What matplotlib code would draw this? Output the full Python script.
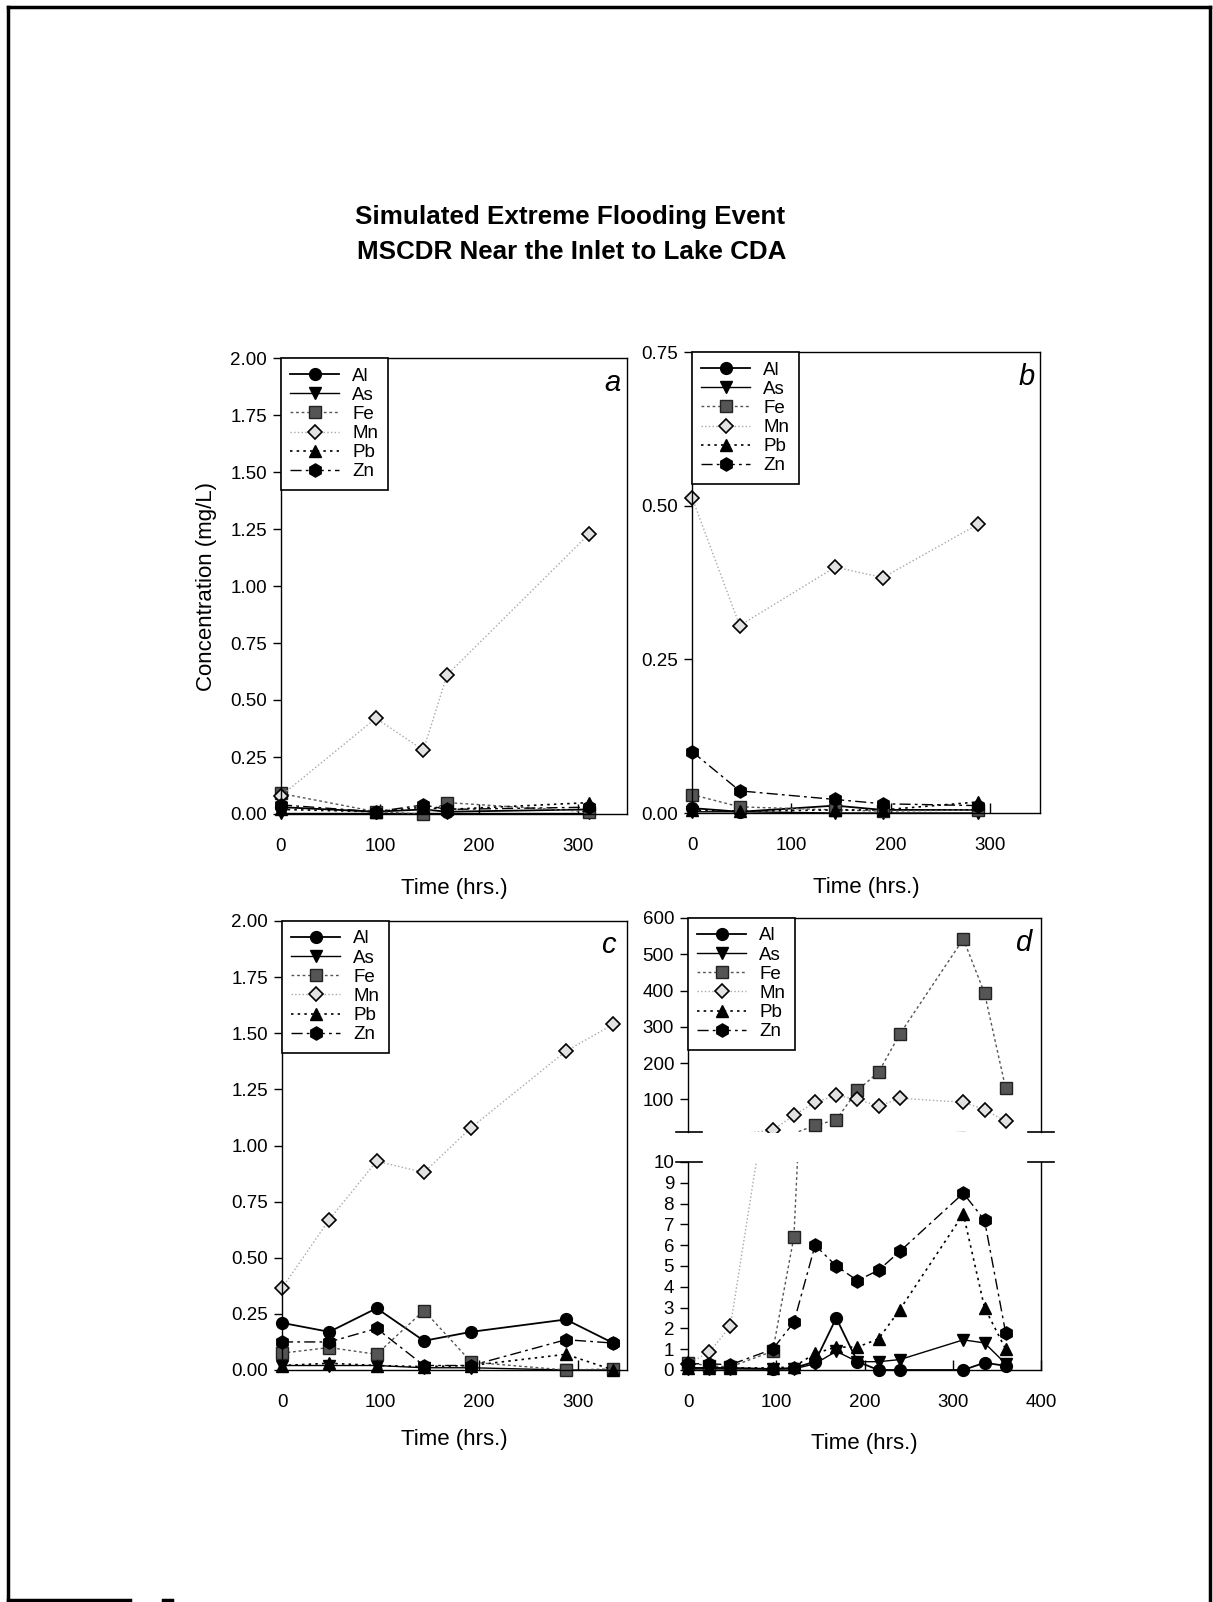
import numpy as np
import matplotlib
matplotlib.use("Agg")
import matplotlib.pyplot as plt
from matplotlib.lines import Line2D

plt.rcParams['font.family'] = ['Liberation Sans', 'DejaVu Sans']

W, H = 1213, 1602

# ---- data (mg/L) ----
elements = ["Al", "As", "Fe", "Mn", "Pb", "Zn"]

a_time = [0, 96, 144, 168, 312]
a_Al = [0.03, 0.01, 0.02, 0.01, 0.02]
a_As = [0.003, 0.003, 0.003, 0.003, 0.003]
a_Fe = [0.09, 0.01, 0.0, 0.05, 0.01]
a_Mn = [0.08, 0.42, 0.28, 0.61, 1.23]
a_Pb = [0.02, 0.01, 0.03, 0.02, 0.05]
a_Zn = [0.04, 0.01, 0.04, 0.02, 0.03]

b_time = [0, 48, 144, 192, 288]
b_Al = [0.008, 0.002, 0.012, 0.005, 0.005]
b_As = [0.002, 0.002, 0.0, 0.0, 0.0]
b_Fe = [0.03, 0.01, 0.005, 0.003, 0.005]
b_Mn = [0.513, 0.305, 0.40, 0.383, 0.47]
b_Pb = [0.005, 0.003, 0.005, 0.005, 0.018]
b_Zn = [0.10, 0.036, 0.022, 0.015, 0.012]

c_time = [0, 48, 96, 144, 192, 288, 336]
c_Al = [0.21, 0.17, 0.275, 0.13, 0.17, 0.225, 0.12]
c_As = [0.02, 0.02, 0.02, 0.01, 0.01, 0.0, 0.0]
c_Fe = [0.075, 0.10, 0.07, 0.265, 0.035, 0.0, 0.005]
c_Mn = [0.365, 0.67, 0.93, 0.88, 1.08, 1.42, 1.54]
c_Pb = [0.02, 0.03, 0.02, 0.015, 0.02, 0.07, 0.0]
c_Zn = [0.125, 0.125, 0.185, 0.02, 0.02, 0.135, 0.12]

d_time = [0, 24, 48, 96, 120, 144, 168, 192, 216, 240, 312, 336, 360]
d_Al = [0.1, 0.1, 0.1, 0.05, 0.1, 0.4, 2.5, 0.4, 0.0, 0.0, 0.0, 0.35, 0.2]
d_As = [0.05, 0.05, 0.05, 0.05, 0.05, 0.3, 0.9, 0.4, 0.4, 0.5, 1.45, 1.3, 0.3]
d_Fe = [0.35, 0.2, 0.15, 0.9, 6.4, 28, 44, 125, 175, 280, 542, 393, 130]
d_Mn = [0.3, 0.85, 2.1, 15, 56, 92, 111, 100, 81, 103, 92, 72, 39]
d_Pb = [0.1, 0.1, 0.1, 0.1, 0.15, 0.8, 1.1, 1.1, 1.5, 2.9, 7.5, 3.0, 1.0]
d_Zn = [0.3, 0.3, 0.25, 1.0, 2.3, 6.0, 5.0, 4.3, 4.8, 5.7, 8.5, 7.2, 1.78]

# ---- styles ----
styles = {
    "Al": dict(color="black", ls="-", lw=1.3, marker="o", ms=8.5, mfc="black", mec="black"),
    "As": dict(color="black", ls="-", lw=1.0, marker="v", ms=8.5, mfc="black", mec="black"),
    "Fe": dict(color="#555555", ls=(0, (2, 2)), lw=1.0, marker="s", ms=8, mfc="#555555", mec="#222222"),
    "Mn": dict(color="#a8a8a8", ls=":", lw=1.0, marker="D", ms=7.5, mfc="#e2e2e2", mec="black", mew=1.2),
    "Pb": dict(color="black", ls=(0, (1.5, 2.5)), lw=1.2, marker="^", ms=8.5, mfc="black", mec="black"),
    "Zn": dict(color="black", ls=(0, (8, 3, 2, 3)), lw=1.0, marker="h", ms=9.5, mfc="black", mec="black"),
}


def box(l, t, r, b):
    return [l / W, 1 - b / H, (r - l) / W, (b - t) / H]


def style_axes(ax):
    ax.tick_params(axis="y", direction="out", length=6, width=1, labelsize=13.5, pad=4)
    ax.tick_params(axis="x", direction="in", length=7, width=1, labelsize=13.5, pad=17)
    for s in ax.spines.values():
        s.set_linewidth(1.0)


def add_legend(ax):
    handles = [Line2D([], [], **styles[e]) for e in elements]
    leg = ax.legend(handles, elements, loc="upper left", borderaxespad=0, fontsize=13.5,
                    handlelength=2.6, labelspacing=0.11, handletextpad=0.7,
                    borderpad=0.5, fancybox=False, framealpha=1, edgecolor="black")
    leg.get_frame().set_linewidth(1.2)


def plot_series(ax, t, series):
    for e, vals in zip(elements, series):
        ax.plot(t, vals, clip_on=False, **styles[e])


fig = plt.figure(figsize=(W / 100, H / 100), dpi=100)

title_font = dict(fontsize=18.7, fontweight="bold")
fig.text(570 / W, 1 - 217 / H, "Simulated Extreme Flooding Event", ha="center", va="center", **title_font)
fig.text(572 / W, 1 - 252 / H, "MSCDR Near the Inlet to Lake CDA", ha="center", va="center", **title_font)

# panel a
ax_a = fig.add_axes(box(281, 358, 627, 814))
plot_series(ax_a, a_time, [a_Al, a_As, a_Fe, a_Mn, a_Pb, a_Zn])
ax_a.set_xlim(0, 350)
ax_a.set_ylim(0, 2.0)
ax_a.set_yticks(np.arange(0, 2.01, 0.25))
ax_a.set_xticks([0, 100, 200, 300])
ax_a.yaxis.set_major_formatter("{x:.2f}")
ax_a.set_ylabel("Concentration (mg/L)", fontsize=16)
ax_a.yaxis.set_label_coords(-0.185, 0.5)
ax_a.set_xlabel("Time (hrs.)", fontsize=16, labelpad=17)
style_axes(ax_a)
add_legend(ax_a)
ax_a.text(0.957, 0.945, "a", transform=ax_a.transAxes, ha="center", va="center",
          fontsize=21, style="italic")

# panel b
ax_b = fig.add_axes(box(692, 352, 1040, 813))
plot_series(ax_b, b_time, [b_Al, b_As, b_Fe, b_Mn, b_Pb, b_Zn])
ax_b.set_xlim(0, 350)
ax_b.set_ylim(0, 0.75)
ax_b.set_yticks([0, 0.25, 0.5, 0.75])
ax_b.set_xticks([0, 100, 200, 300])
ax_b.yaxis.set_major_formatter("{x:.2f}")
ax_b.set_xlabel("Time (hrs.)", fontsize=16, labelpad=17)
style_axes(ax_b)
add_legend(ax_b)
ax_b.text(0.963, 0.946, "b", transform=ax_b.transAxes, ha="center", va="center",
          fontsize=21, style="italic")

# panel c
ax_c = fig.add_axes(box(282, 921, 627, 1370))
plot_series(ax_c, c_time, [c_Al, c_As, c_Fe, c_Mn, c_Pb, c_Zn])
ax_c.set_xlim(0, 350)
ax_c.set_ylim(0, 2.0)
ax_c.set_yticks(np.arange(0, 2.01, 0.25))
ax_c.set_xticks([0, 100, 200, 300])
ax_c.yaxis.set_major_formatter("{x:.2f}")
ax_c.set_xlabel("Time (hrs.)", fontsize=16, labelpad=13)
style_axes(ax_c)
add_legend(ax_c)
ax_c.text(0.945, 0.947, "c", transform=ax_c.transAxes, ha="center", va="center",
          fontsize=21, style="italic")

# panel d (broken y axis)
ax_du = fig.add_axes(box(688, 918, 1041, 1132))
ax_dl = fig.add_axes(box(688, 1162, 1041, 1370))
d_series = [d_Al, d_As, d_Fe, d_Mn, d_Pb, d_Zn]
for e, vals in zip(elements, d_series):
    v = np.asarray(vals, dtype=float)
    st = dict(styles[e])
    line_st = {k: st[k] for k in ("color", "ls", "lw")}
    mark_st = {k: st[k] for k in st if k not in ("ls", "lw")}
    # upper part: lines everywhere, markers only inside its range
    ax_du.plot(d_time, v, **line_st)
    hi = v >= 10
    ax_du.plot(np.asarray(d_time)[hi], v[hi], ls="none", **mark_st)
    # lower part
    ax_dl.plot(d_time, v, **line_st)
    lo = v <= 10
    ax_dl.plot(np.asarray(d_time)[lo], v[lo], ls="none", clip_on=False, **mark_st)
for ax in (ax_du, ax_dl):
    ax.set_xlim(0, 400)
    style_axes(ax)
ax_du.set_ylim(10, 600)
ax_du.set_yticks([100, 200, 300, 400, 500, 600])
ax_du.spines["bottom"].set_visible(False)
ax_du.tick_params(axis="x", bottom=False, labelbottom=False)
ax_dl.set_ylim(0, 10)
ax_dl.set_yticks(range(0, 11))
ax_dl.set_xticks([0, 100, 200, 300, 400])
ax_dl.spines["top"].set_visible(False)
ax_dl.set_xlabel("Time (hrs.)", fontsize=16, labelpad=16)
add_legend(ax_du)
ax_du.text(0.95, 0.883, "d", transform=ax_du.transAxes, ha="center", va="center",
           fontsize=21, style="italic")

# break marks
for y in (1132, 1162):
    for x0, x1 in ((676, 702), (1028, 1054)):
        fig.add_artist(Line2D([x0 / W, x1 / W], [1 - y / H, 1 - y / H], color="black", lw=1.2))

# page frame
frame = dict(color="black", lw=2.5)
fig.add_artist(Line2D([8 / W, 8 / W], [1 - 7 / H, 1 - 1600 / H], **frame))
fig.add_artist(Line2D([8 / W, 1210 / W], [1 - 7 / H, 1 - 7 / H], **frame))
fig.add_artist(Line2D([1210 / W, 1210 / W], [1 - 7 / H, 0], **frame))
fig.add_artist(Line2D([8 / W, 130 / W], [1 - 1600 / H, 1 - 1600 / H], **frame))
fig.add_artist(Line2D([163 / W, 172 / W], [1 - 1600 / H, 1 - 1600 / H], **frame))

fig.savefig("out.png", dpi=100)
